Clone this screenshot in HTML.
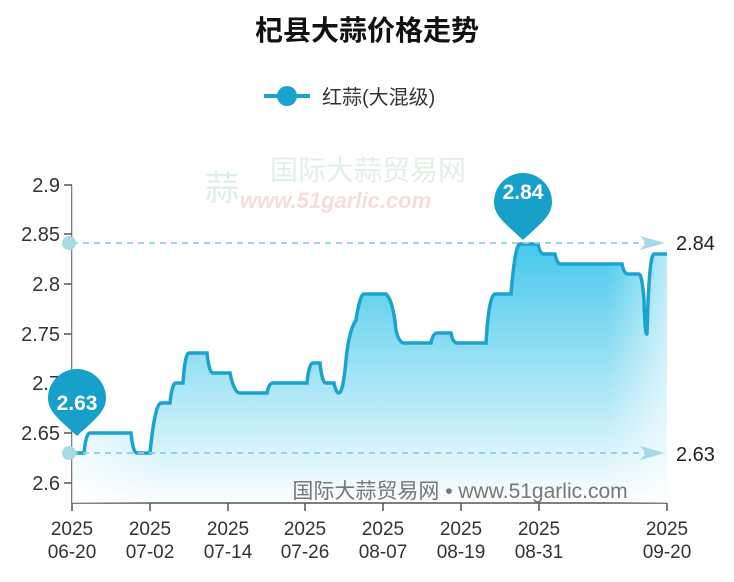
<!DOCTYPE html>
<html><head><meta charset="utf-8"><style>
body{margin:0;background:#fff;}
svg{display:block;font-family:"Liberation Sans","Noto Sans CJK SC",sans-serif;}
</style></head><body>
<svg width="734" height="582" viewBox="0 0 734 582" xmlns="http://www.w3.org/2000/svg">
<defs>
<linearGradient id="g" x1="0" y1="0" x2="0" y2="1">
<stop offset="0" stop-color="#3cc6ea" stop-opacity="0.95"/>
<stop offset="1" stop-color="#3cc6ea" stop-opacity="0.02"/>
</linearGradient>
<linearGradient id="h" x1="0" y1="0" x2="1" y2="0">
<stop offset="0" stop-color="#fff" stop-opacity="0.7"/>
<stop offset="0.15" stop-color="#fff" stop-opacity="0"/>
<stop offset="0.9" stop-color="#fff" stop-opacity="0"/>
<stop offset="1" stop-color="#fff" stop-opacity="0.6"/>
</linearGradient>
</defs>
<text x="367" y="40" text-anchor="middle" font-size="28" font-weight="bold" fill="#111">杞县大蒜价格走势</text>
<line x1="264" y1="96" x2="310" y2="96" stroke="#1aa3cf" stroke-width="4"/>
<circle cx="287" cy="96" r="10" fill="#1aa3cf"/>
<text x="322" y="104" font-size="20" fill="#333">红蒜(大混级)</text>
<text x="205" y="200" font-size="34" fill="#cfe8d8" opacity="0.7">蒜</text>
<text x="270" y="180" font-size="28" fill="#d5eadc" opacity="0.7">国际大蒜贸易网</text>
<text x="240" y="208" font-size="22" font-style="italic" font-weight="bold" fill="#f0c8c8" opacity="0.6">www.51garlic.com</text>
<g font-size="20" fill="#333" text-anchor="end">
<text x="60" y="192">2.9</text><text x="60" y="241">2.85</text><text x="60" y="291">2.8</text>
<text x="60" y="341">2.75</text><text x="60" y="390">2.7</text><text x="60" y="440">2.65</text><text x="60" y="490">2.6</text>
</g>
<g stroke="#555" stroke-width="1.5">
<line x1="72" y1="185" x2="72" y2="503"/><line x1="72" y1="503" x2="667" y2="503"/>
<line x1="64" y1="185" x2="72" y2="185"/><line x1="64" y1="234" x2="72" y2="234"/><line x1="64" y1="284" x2="72" y2="284"/>
<line x1="64" y1="334" x2="72" y2="334"/><line x1="64" y1="383" x2="72" y2="383"/><line x1="64" y1="433" x2="72" y2="433"/><line x1="64" y1="483" x2="72" y2="483"/>
<line x1="72" y1="503" x2="72" y2="511"/><line x1="150" y1="503" x2="150" y2="511"/><line x1="228" y1="503" x2="228" y2="511"/>
<line x1="305" y1="503" x2="305" y2="511"/><line x1="383" y1="503" x2="383" y2="511"/><line x1="461" y1="503" x2="461" y2="511"/>
<line x1="539" y1="503" x2="539" y2="511"/><line x1="667" y1="503" x2="667" y2="511"/>
</g>
<g font-size="19" fill="#333" text-anchor="middle">
<text x="72" y="535">2025</text><text x="72" y="558">06-20</text>
<text x="150" y="535">2025</text><text x="150" y="558">07-02</text>
<text x="228" y="535">2025</text><text x="228" y="558">07-14</text>
<text x="305" y="535">2025</text><text x="305" y="558">07-26</text>
<text x="383" y="535">2025</text><text x="383" y="558">08-07</text>
<text x="461" y="535">2025</text><text x="461" y="558">08-19</text>
<text x="539" y="535">2025</text><text x="539" y="558">08-31</text>
<text x="667" y="535">2025</text><text x="667" y="558">09-20</text>
</g>
<path id="p" d="M72,453 L84,453 Q86,433 90,433 L131,433 Q133,453 137,453 L150,453 Q155,403 161,403 L170,403 Q172,383 176,383 L183,383 Q185,353 189,353 L207,353 Q209,373 213,373 L230,373 Q234,393 240,393 L267,393 Q269,383 273,383 L307,383 Q309,363 313,363 L320,363 Q322,383 326,383 L334,383 Q336,393 339,393 Q343,393 346,360 Q349,330 356,320 Q360,294 364,294 L386,294 Q393,300 396,330 Q399,343 404,343 L431,343 Q433,333 437,333 L451,333 Q453,343 457,343 L486,343 Q489,294 495,294 L511,294 Q515,244 520,244 L538,244 Q540,254 544,254 L555,254 Q557,264 561,264 L622,264 Q624,274 628,274 L639,274 Q642,274 644,300 Q645,336 647,334 Q649,254 654,254 L667,254" fill="none"/>
<path d="M72,453 L84,453 Q86,433 90,433 L131,433 Q133,453 137,453 L150,453 Q155,403 161,403 L170,403 Q172,383 176,383 L183,383 Q185,353 189,353 L207,353 Q209,373 213,373 L230,373 Q234,393 240,393 L267,393 Q269,383 273,383 L307,383 Q309,363 313,363 L320,363 Q322,383 326,383 L334,383 Q336,393 339,393 Q343,393 346,360 Q349,330 356,320 Q360,294 364,294 L386,294 Q393,300 396,330 Q399,343 404,343 L431,343 Q433,333 437,333 L451,333 Q453,343 457,343 L486,343 Q489,294 495,294 L511,294 Q515,244 520,244 L538,244 Q540,254 544,254 L555,254 Q557,264 561,264 L622,264 Q624,274 628,274 L639,274 Q642,274 644,300 Q645,336 647,334 Q649,254 654,254 L667,254 L667,503 L72,503 Z" fill="url(#g)"/>
<rect x="72" y="180" width="595" height="323" fill="url(#h)"/>
<use href="#p" stroke="#1aa3cf" stroke-width="3.5"/>
<g stroke="#8fd0e3" stroke-width="1.8" stroke-dasharray="6,5">
<line x1="72" y1="243" x2="650" y2="243"/><line x1="72" y1="453" x2="650" y2="453"/>
</g>
<path d="M640,236 L665,243 L640,250 L646,243 Z" fill="#a7d9e6"/>
<path d="M640,446 L665,453 L640,460 L646,453 Z" fill="#a7d9e6"/>
<circle cx="69" cy="243" r="7" fill="#a7d9e6"/>
<circle cx="69" cy="453" r="7" fill="#a7d9e6"/>
<text x="676" y="250" font-size="20" fill="#222">2.84</text>
<text x="676" y="461" font-size="20" fill="#222">2.63</text>
<path d="M77,436 C60,420 48,412 48,398 A29,29 0 1 1 106,398 C106,412 94,420 77,436 Z" fill="#17a0c9"/>
<text x="77" y="410" text-anchor="middle" font-size="21" font-weight="bold" fill="#fff">2.63</text>
<path d="M523,240 C506,224 494,216 494,202 A29,29 0 1 1 552,202 C552,216 540,224 523,240 Z" fill="#17a0c9"/>
<text x="523" y="199" text-anchor="middle" font-size="21" font-weight="bold" fill="#fff">2.84</text>
<text x="460" y="498" text-anchor="middle" font-size="21" fill="#777">国际大蒜贸易网 • www.51garlic.com</text>
</svg>
</body></html>
